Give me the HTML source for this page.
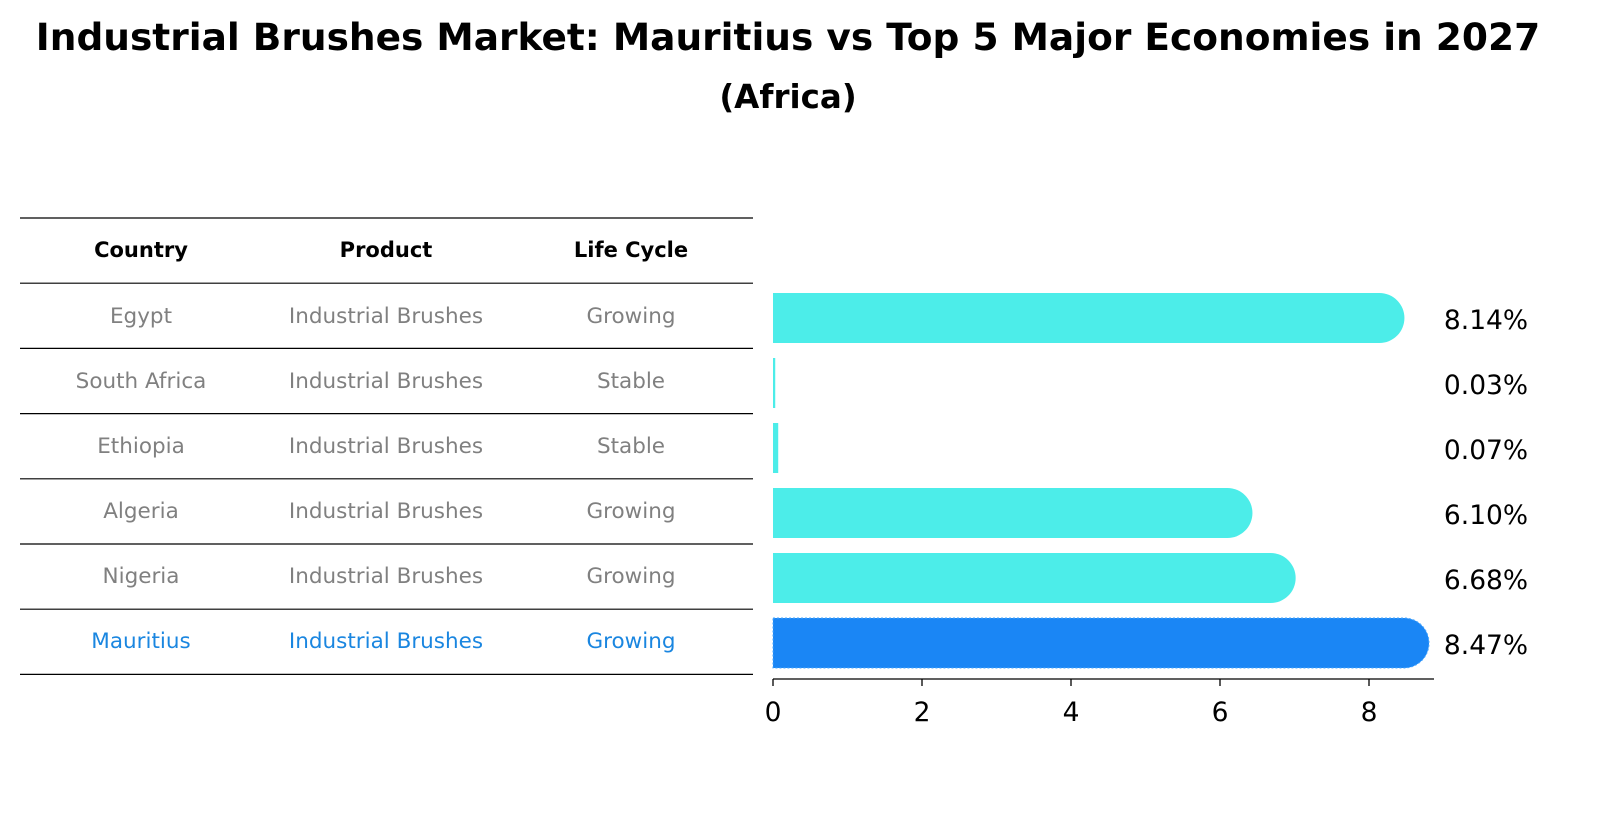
<!DOCTYPE html>
<html><head><meta charset="utf-8"><style>
body{margin:0;background:#fff;font-family:"Liberation Sans","DejaVu Sans",sans-serif;}
svg text{font-family:"DejaVu Sans","Liberation Sans",sans-serif;}
</style></head><body>
<svg id="c" width="1606" height="823" xmlns="http://www.w3.org/2000/svg">
<text x="788" y="50" text-anchor="middle" font-size="37.5" font-weight="bold">Industrial Brushes Market: Mauritius vs Top 5 Major Economies in 2027</text>
<text x="788" y="108" text-anchor="middle" font-size="32.5" font-weight="bold">(Africa)</text>
<g id="tbl"></g>
<g id="bars"></g>
</svg>
<script>
const countries=["Egypt","South Africa","Ethiopia","Algeria","Nigeria","Mauritius"];
const products=["Industrial Brushes","Industrial Brushes","Industrial Brushes","Industrial Brushes","Industrial Brushes","Industrial Brushes"];
const lifeCycles=["Growing","Stable","Stable","Growing","Growing","Growing"];
const values=[8.14,0.03,0.07,6.10,6.68,8.47];
const valueLabels=["8.14%","0.03%","0.07%","6.10%","6.68%","8.47%"];
const ticks=[0,2,4,6,8];
const NS="http://www.w3.org/2000/svg";
function mk(p,t,a,txt){const e=document.createElementNS(NS,t);for(const k in a)e.setAttribute(k,a[k]);if(txt!=null)e.textContent=txt;p.appendChild(e);return e;}
const tbl=document.getElementById('tbl'),bars=document.getElementById('bars');
const rowY=i=>315+i*65;
const xs=v=>773+v*74.5;
for(let i=0;i<8;i++){
  const y=218+i*65.2;
  const l=mk(tbl,'line',{x1:20,x2:753,y1:y,y2:y,stroke:'#000','stroke-width':1.2});
  
  
}
const cols=[141,386,631];
["Country","Product","Life Cycle"].forEach((h,j)=>{
  const t=mk(tbl,'text',{x:cols[j],y:257,'text-anchor':'middle','font-size':21,'font-weight':'bold'},h);
  
  
});
countries.forEach((c,i)=>{
  const col=i===countries.length-1?'#1a86e0':'#808080';
  [c,products[i],lifeCycles[i]].forEach((v,j)=>{
    const t=mk(tbl,'text',{x:cols[j],y:rowY(i)+8,'text-anchor':'middle','font-size':21.5,fill:col},v);
    
    
  });
  const h=50, y=rowY(i)+3-h/2, last=i===countries.length-1;
  const w=xs(values[i])-773;
  const r=values[i]>0.5?h/2:0;
  const color=last?'#1a86f5':'#4cede9';
  const d=r?`M773,${y}H${773+w}A${r},${r} 0 0 1 ${773+w},${y+h}H773Z`:'';
  const b=r?mk(bars,'path',{d:d,fill:color,stroke:last?'#4aa8ff':'none','stroke-dasharray':last?'2,2':'none'}):mk(bars,'rect',{x:773,y:y,width:Math.max(w,2),height:h,fill:color});
  
  
  const t=mk(bars,'text',{x:1486,y:rowY(i)+14,'text-anchor':'middle','font-size':26.5},valueLabels[i]);
  
  
});
const ax=mk(bars,'line',{x1:773,x2:1434,y1:679,y2:679,stroke:'#000','stroke-width':1.3});


ticks.forEach(v=>{
  const l=mk(bars,'line',{x1:xs(v),x2:xs(v),y1:679,y2:686,stroke:'#000','stroke-width':1.3});
  
  
  const t=mk(bars,'text',{x:xs(v),y:721,'text-anchor':'middle','font-size':26.5},String(v));
  
  
});
</script>
</body></html>
